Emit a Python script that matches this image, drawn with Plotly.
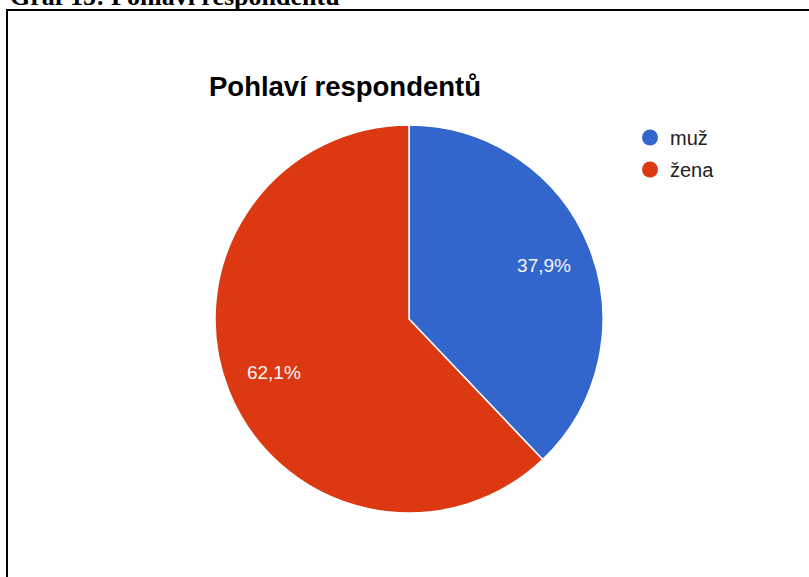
import plotly.graph_objects as go

categories = ["muž", "žena"]
values = [37.9, 62.1]
colors = ["#3366cc", "#dc3912"]
chart_title = "Pohlaví respondentů"
caption = "Graf 15: Pohlaví respondentů"

W, H = 809, 577
CX, CY, R = 409, 319, 194
pie_domain = dict(x=[(CX - R) / W, (CX + R) / W], y=[1 - (CY + R) / H, 1 - (CY - R) / H])

fig = go.Figure()
# filled pie with slice separators
fig.add_trace(go.Pie(
    labels=categories,
    values=values,
    marker=dict(colors=colors, line=dict(color="white", width=1.5)),
    sort=False,
    direction="clockwise",
    rotation=0,
    textinfo="none",
    showlegend=False,
    hoverinfo="label+percent",
    domain=pie_domain,
))
# transparent ring carrying the percentage labels (placed further out)
fig.add_trace(go.Pie(
    labels=categories,
    values=values,
    hole=0.5,
    marker=dict(colors=["rgba(0,0,0,0)"] * len(categories), line=dict(width=0)),
    sort=False,
    direction="clockwise",
    rotation=0,
    texttemplate="%{percent:.1%}",
    textposition="inside",
    insidetextorientation="horizontal",
    textfont=dict(family="Arial, Liberation Sans", size=19, color="#f4f4f4"),
    showlegend=False,
    hoverinfo="skip",
    domain=pie_domain,
))

# legend entries as circles
for i, (cat, col) in enumerate(zip(categories, colors)):
    fig.add_trace(go.Scatter(
        x=[None], y=[None], mode="markers", name=cat,
        marker=dict(symbol="circle", size=21, color=col),
        legendgroup=f"g{i}", showlegend=True,
    ))

fig.update_layout(
    width=W, height=H, autosize=False,
    margin=dict(l=0, r=0, t=0, b=0),
    paper_bgcolor="white", plot_bgcolor="white",
    separators=", ",
    xaxis=dict(visible=False), yaxis=dict(visible=False),
    title=dict(
        text="<b>" + chart_title + "</b>",
        x=209 / W, xanchor="left", xref="paper",
        y=1 - 86 / H, yanchor="middle", yref="paper",
        font=dict(family="Arial, Liberation Sans", size=27.5, color="black"),
    ),
    legend=dict(
        x=630 / W, xanchor="left", y=1 - 118 / H, yanchor="top",
        font=dict(family="Arial, Liberation Sans", size=20, color="#222222"),
        tracegroupgap=3, bgcolor="rgba(0,0,0,0)",
    ),
    annotations=[dict(
        text="<b>" + caption + "</b>", xref="paper", yref="paper",
        x=8 / W, xanchor="left", y=1 - 13 / H, yanchor="bottom",
        showarrow=False,
        font=dict(family="Times New Roman, Liberation Serif", size=26, color="black"),
    )],
    shapes=[dict(
        type="rect", xref="paper", yref="paper",
        x0=7 / W, x1=1.05, y0=-0.05, y1=1 - 10 / H,
        line=dict(color="black", width=2), fillcolor="rgba(0,0,0,0)",
    )],
)

fig.write_html("out.html", config={"displayModeBar": False},
               post_script="document.body.style.margin='0';")
